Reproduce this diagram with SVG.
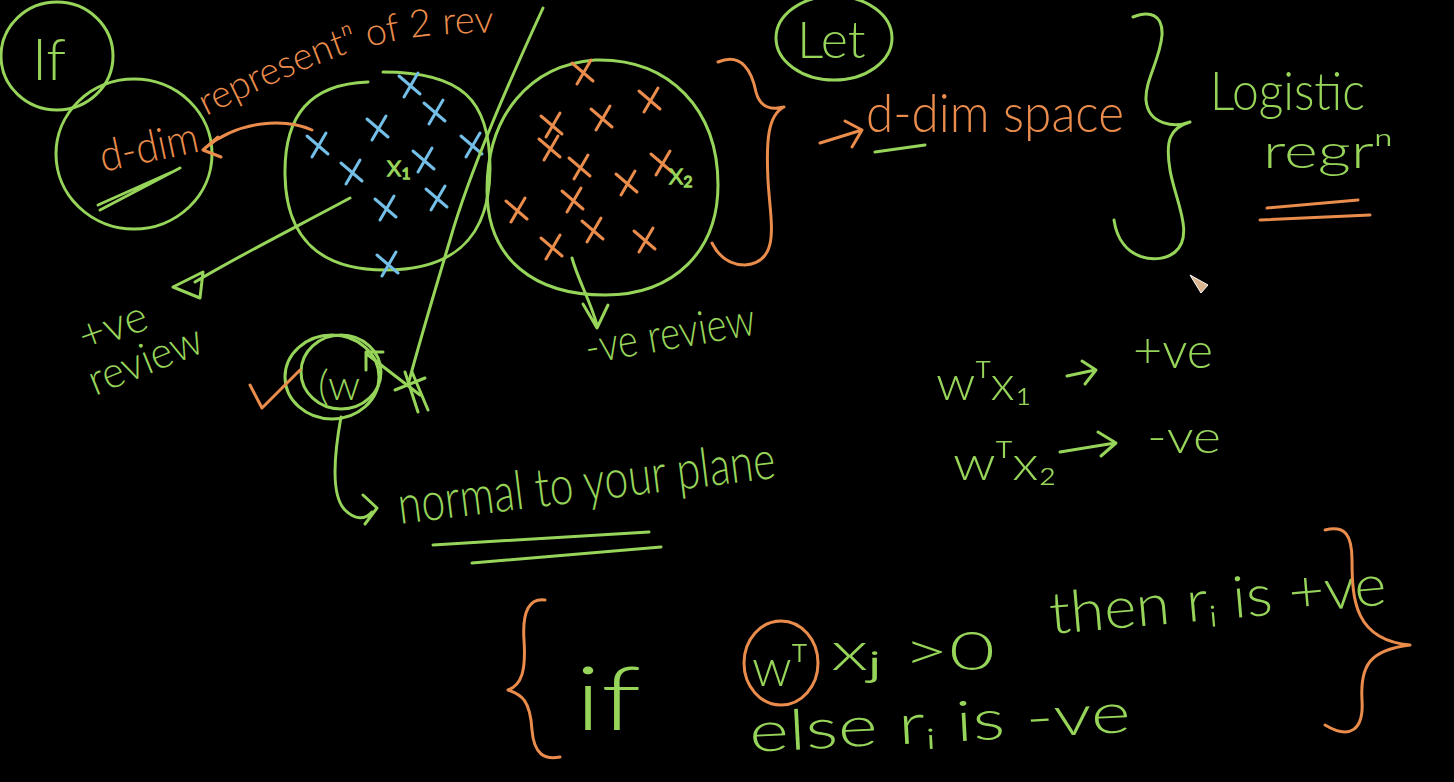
<svg xmlns="http://www.w3.org/2000/svg" width="1454" height="782" viewBox="0 0 1454 782">
<style>
.g{stroke:#97d45a;fill:none;stroke-width:3;stroke-linecap:round;stroke-linejoin:round}
.o{stroke:#ea8c4c;fill:none;stroke-width:3;stroke-linecap:round;stroke-linejoin:round}
.b{stroke:#74bfe8;fill:none;stroke-width:3;stroke-linecap:round}
.tg{fill:#97d45a;font-family:Lato,"Liberation Sans",sans-serif;font-weight:300}
.to{fill:#ea8c4c;font-family:Lato,"Liberation Sans",sans-serif;font-weight:300}
.lbl{stroke:#97d45a;stroke-width:1.5}
</style>
<defs>
<path id="xm" d="M-11,-9 L10,9 M8,-12 L-6,12"/>
<path id="curveText" d="M206,116 C255,92 315,62 365,48 S445,34 500,32"/>
</defs>
<rect width="1454" height="782" fill="#000"/>

<g id="if-node">
<ellipse class="g" cx="57" cy="56" rx="56" ry="54"/>
<text class="tg" x="32" y="80" font-size="58">If</text>
</g>

<g id="ddim-node">
<ellipse class="g" cx="134" cy="154" rx="78" ry="75"/>
<text class="to" x="103" y="172" font-size="44" textLength="100" lengthAdjust="spacingAndGlyphs" transform="rotate(-12 103 172)">d-dim</text>
<path class="g" d="M100,210 L180,168 M98,205 L172,172" stroke-width="4"/>
<text class="to" font-size="38"><textPath href="#curveText">representⁿ of 2 rev</textPath></text>
</g>

<g id="cluster-pos">
<path class="g" d="M368,82 C310,84 284,115 285,175 C286,240 322,270 385,270 C452,270 490,240 490,168 C490,100 462,72 383,72"/>
<g class="b">
<use href="#xm" x="410" y="85"/><use href="#xm" x="378" y="128"/><use href="#xm" x="435" y="112"/>
<use href="#xm" x="318" y="145"/><use href="#xm" x="472" y="145"/><use href="#xm" x="352" y="172"/>
<use href="#xm" x="424" y="160"/><use href="#xm" x="386" y="208"/><use href="#xm" x="437" y="198"/>
<use href="#xm" x="388" y="264"/>
</g>
<text class="tg lbl" x="387" y="176" font-size="30">x₁</text>
</g>

<g id="cluster-neg">
<path class="g" d="M595,60 C670,58 718,110 718,185 C718,250 675,295 605,295 C535,295 487,260 487,190 C487,115 530,65 595,60"/>
<g class="o">
<use href="#xm" x="583" y="72"/><use href="#xm" x="650" y="100"/><use href="#xm" x="602" y="118"/>
<use href="#xm" x="552" y="125"/><use href="#xm" x="550" y="148"/><use href="#xm" x="580" y="167"/>
<use href="#xm" x="662" y="163"/><use href="#xm" x="627" y="183"/><use href="#xm" x="517" y="210"/>
<use href="#xm" x="573" y="200"/><use href="#xm" x="593" y="230"/><use href="#xm" x="645" y="240"/>
<use href="#xm" x="552" y="247"/>
</g>
<text class="tg lbl" x="669" y="184" font-size="30">x₂</text>
</g>

<g id="brace-clusters">
<path class="o" d="M718,62 C742,52 752,72 756,92 C760,108 772,110 784,107 C768,115 766,140 768,180 C770,220 782,262 745,265 C728,265 718,255 712,243"/>
</g>

<g id="let-node">
<ellipse class="g" cx="834" cy="38" rx="58" ry="42"/>
<text class="tg" x="797" y="58" font-size="52">Let</text>
</g>

<g id="dspace-node">
<text class="to" x="866" y="132" font-size="54" textLength="258" lengthAdjust="spacingAndGlyphs">d-dim space</text>
<path class="g" d="M875,152 L925,145" stroke-width="5"/>
</g>

<g id="brace-logistic">
<path class="g" d="M1133,17 C1150,10 1163,15 1162,35 C1160,60 1145,80 1146,100 C1148,125 1175,128 1190,122 C1170,128 1165,140 1170,170 C1175,200 1195,235 1175,252 C1160,265 1120,262 1114,220"/>
</g>

<g id="logistic-node">
<text class="tg" x="1210" y="110" font-size="54" textLength="155" lengthAdjust="spacingAndGlyphs">Logistic</text>
<text class="tg" x="1263" y="168" font-size="48" textLength="130" lengthAdjust="spacingAndGlyphs">regrⁿ</text>
<path class="o" d="M1267,208 L1358,200 M1260,220 L1370,215" stroke-width="4"/>
</g>

<g id="cursor">
<path d="M1190,275 L1208,285 L1201,293 Z" fill="#d9b48c" stroke="#fff" stroke-width="1"/>
</g>

<g id="pos-review">
<text class="tg" x="85" y="352" font-size="44" transform="rotate(-20 85 352)">+ve</text>
<text class="tg" x="95" y="396" font-size="44" textLength="120" lengthAdjust="spacingAndGlyphs" transform="rotate(-22 95 396)">review</text>
</g>

<g id="neg-review">
<text class="tg" x="588" y="364" font-size="46" textLength="172" lengthAdjust="spacingAndGlyphs" transform="rotate(-10 588 364)">-ve review</text>
</g>

<g id="w-node">
<ellipse class="g" cx="332" cy="377" rx="47" ry="42"/>
<ellipse class="g" cx="341" cy="372" rx="40" ry="37"/>
<text class="tg" x="318" y="400" font-size="42">(w</text>
<path class="o" d="M250,385 L262,408 L300,370"/>
</g>

<g id="normal-node">
<text class="tg" x="400" y="524" font-size="54" textLength="380" lengthAdjust="spacingAndGlyphs" transform="rotate(-7 400 524)">normal to your plane</text>
<path class="g" d="M433,545 L649,532 M472,563 L661,547"/>
</g>

<g id="equations">
<text class="tg" x="936" y="400" font-size="48" textLength="96" lengthAdjust="spacingAndGlyphs">wᵀx₁</text>
<text class="tg" x="1133" y="368" font-size="50" textLength="80" lengthAdjust="spacingAndGlyphs">+ve</text>
<text class="tg" x="953" y="480" font-size="48" textLength="104" lengthAdjust="spacingAndGlyphs">wᵀx₂</text>
<text class="tg" x="1147" y="453" font-size="46" textLength="74" lengthAdjust="spacingAndGlyphs">-ve</text>
</g>

<g id="rule">
<path class="o" d="M545,600 C530,598 522,610 524,640 C526,670 522,685 508,690 C522,695 530,700 532,730 C534,755 545,760 560,757"/>
<text class="tg" x="575" y="730" font-size="88" textLength="66" lengthAdjust="spacingAndGlyphs">if</text>
<ellipse class="o" cx="781" cy="663" rx="37" ry="42"/>
<text class="tg" x="752" y="686" font-size="52">wᵀ</text>
<text class="tg" x="831" y="670" font-size="54" textLength="164" lengthAdjust="spacingAndGlyphs">xⱼ &gt;0</text>
<text class="tg" x="1051" y="634" font-size="58" textLength="338" lengthAdjust="spacingAndGlyphs" transform="rotate(-5 1051 634)">then rᵢ is +ve</text>
<text class="tg" x="750" y="752" font-size="56" textLength="382" lengthAdjust="spacingAndGlyphs" transform="rotate(-3 750 752)">else rᵢ is -ve</text>
<path class="o" d="M1325,530 C1345,525 1352,535 1352,560 C1352,600 1355,640 1410,645 C1370,650 1360,665 1362,700 C1364,730 1350,740 1325,725"/>
</g>

<g id="connectors">
<path class="o" d="M312,130 C285,118 240,120 205,148 M218,137 L203,150 L221,157"/>
<path class="g" d="M350,198 C300,225 240,255 195,282 M173,287 L203,272 L200,298 Z"/>
<path class="g" d="M543,8 C510,80 470,170 450,240 C435,290 420,340 408,385"/>
<path class="g" d="M572,258 C578,280 590,300 597,325 M583,304 L597,328 L608,305"/>
<path class="g" d="M420,395 L368,355 M366,370 L366,352 L383,352"/>
<path class="g" d="M395,390 L425,378 M405,372 L418,412 M412,372 L428,410"/>
<path class="g" d="M341,417 C335,450 330,495 345,510 C355,520 365,520 372,512 M363,495 L377,508 L365,524"/>
<path class="o" d="M820,143 L862,130 M845,121 L862,130 L852,147"/>
<path class="g" d="M1067,376 L1095,370 M1082,361 L1096,370 L1085,384"/>
<path class="g" d="M1060,452 L1115,443 M1098,432 L1116,443 L1101,456"/>
</g>
</svg>
